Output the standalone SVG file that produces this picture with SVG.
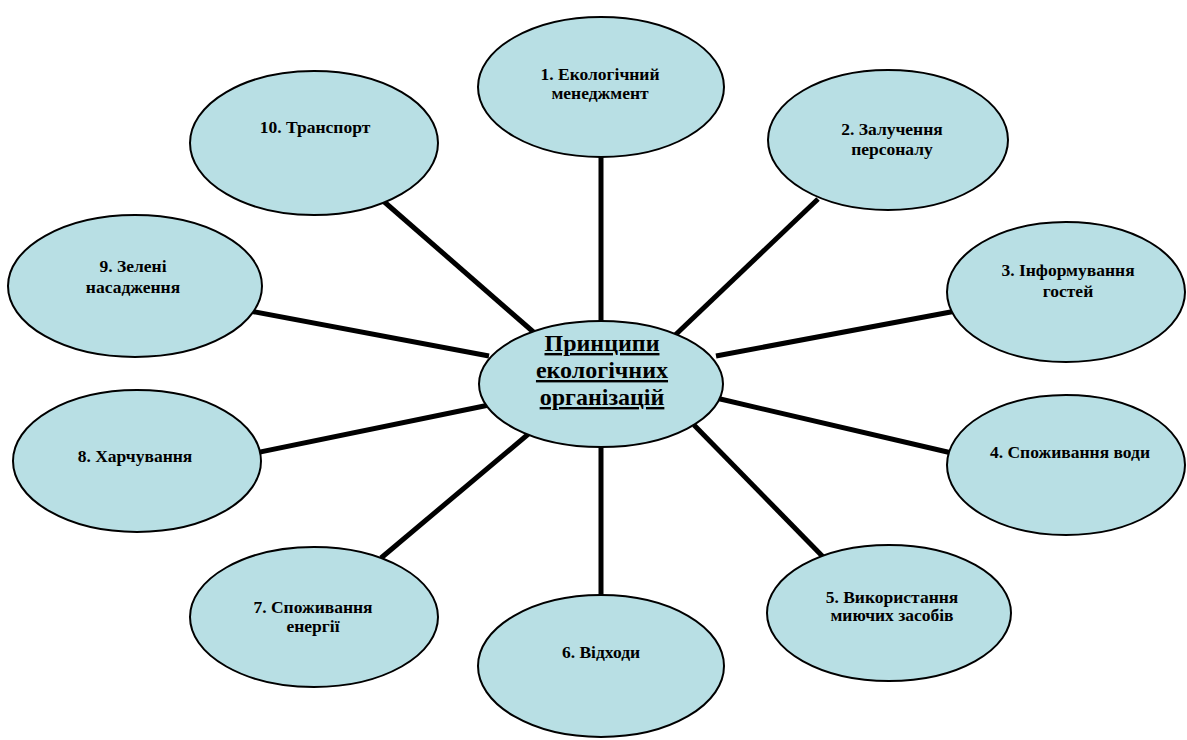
<svg xmlns="http://www.w3.org/2000/svg" width="1187" height="740" viewBox="0 0 1187 740">
<style>
.bg{fill:#ffffff}
.node ellipse{fill:#B8DFE4;stroke:#000;stroke-width:2}
text{font-family:"Liberation Serif","Times New Roman",Times,"DejaVu Serif",serif;font-weight:bold;fill:#000;text-anchor:middle}
.lbl{font-size:17.5px}
.title{font-size:24px;text-decoration:underline}
.conn line{stroke:#000;stroke-width:5}
</style>
<rect class="bg" x="0" y="0" width="1187" height="740"/>
<g id="connectors" class="conn">
<line x1="601" y1="150" x2="601" y2="330"/>
<line x1="818" y1="199" x2="670" y2="340"/>
<line x1="956" y1="311" x2="716" y2="356"/>
<line x1="716" y1="398" x2="956" y2="454"/>
<line x1="694" y1="425" x2="832" y2="566"/>
<line x1="601" y1="440" x2="601" y2="602"/>
<line x1="532" y1="431" x2="381" y2="558"/>
<line x1="489" y1="405" x2="250" y2="454"/>
<line x1="489" y1="356" x2="250" y2="311"/>
<line x1="381" y1="199" x2="538" y2="336"/>
</g>
<g id="center" class="node">
<ellipse cx="601" cy="384" rx="122" ry="63"/>
<text class="title" x="602" y="351">Принципи</text>
<text class="title" x="602" y="378">екологічних</text>
<text class="title" x="602" y="405">організацій</text>
</g>
<g id="n1" class="node">
<ellipse cx="601" cy="87" rx="123" ry="70"/>
<text class="lbl" x="600" y="80">1. Екологічний</text>
<text class="lbl" x="600" y="99">менеджмент</text>
</g>
<g id="n2" class="node">
<ellipse cx="888" cy="140" rx="120" ry="70"/>
<text class="lbl" x="892" y="135">2. Залучення</text>
<text class="lbl" x="892" y="155">персоналу</text>
</g>
<g id="n3" class="node">
<ellipse cx="1066" cy="292" rx="119" ry="70"/>
<text class="lbl" x="1068" y="276">3. Інформування</text>
<text class="lbl" x="1068" y="297">гостей</text>
</g>
<g id="n4" class="node">
<ellipse cx="1066" cy="465" rx="119" ry="70"/>
<text class="lbl" x="1070" y="458">4. Споживання води</text>
</g>
<g id="n5" class="node">
<ellipse cx="889" cy="613" rx="122" ry="68"/>
<text class="lbl" x="892" y="603">5. Використання</text>
<text class="lbl" x="892" y="621">миючих засобів</text>
</g>
<g id="n6" class="node">
<ellipse cx="601" cy="666" rx="123" ry="71"/>
<text class="lbl" x="601" y="658">6. Відходи</text>
</g>
<g id="n7" class="node">
<ellipse cx="314" cy="617" rx="124" ry="70"/>
<text class="lbl" x="313" y="613">7. Споживання</text>
<text class="lbl" x="313" y="632">енергії</text>
</g>
<g id="n8" class="node">
<ellipse cx="137" cy="461" rx="124" ry="71"/>
<text class="lbl" x="135" y="462">8. Харчування</text>
</g>
<g id="n9" class="node">
<ellipse cx="135" cy="286" rx="127" ry="71"/>
<text class="lbl" x="133" y="272">9. Зелені</text>
<text class="lbl" x="133" y="293">насадження</text>
</g>
<g id="n10" class="node">
<ellipse cx="314" cy="143" rx="124" ry="72"/>
<text class="lbl" x="315" y="133">10. Транспорт</text>
</g>
</svg>
